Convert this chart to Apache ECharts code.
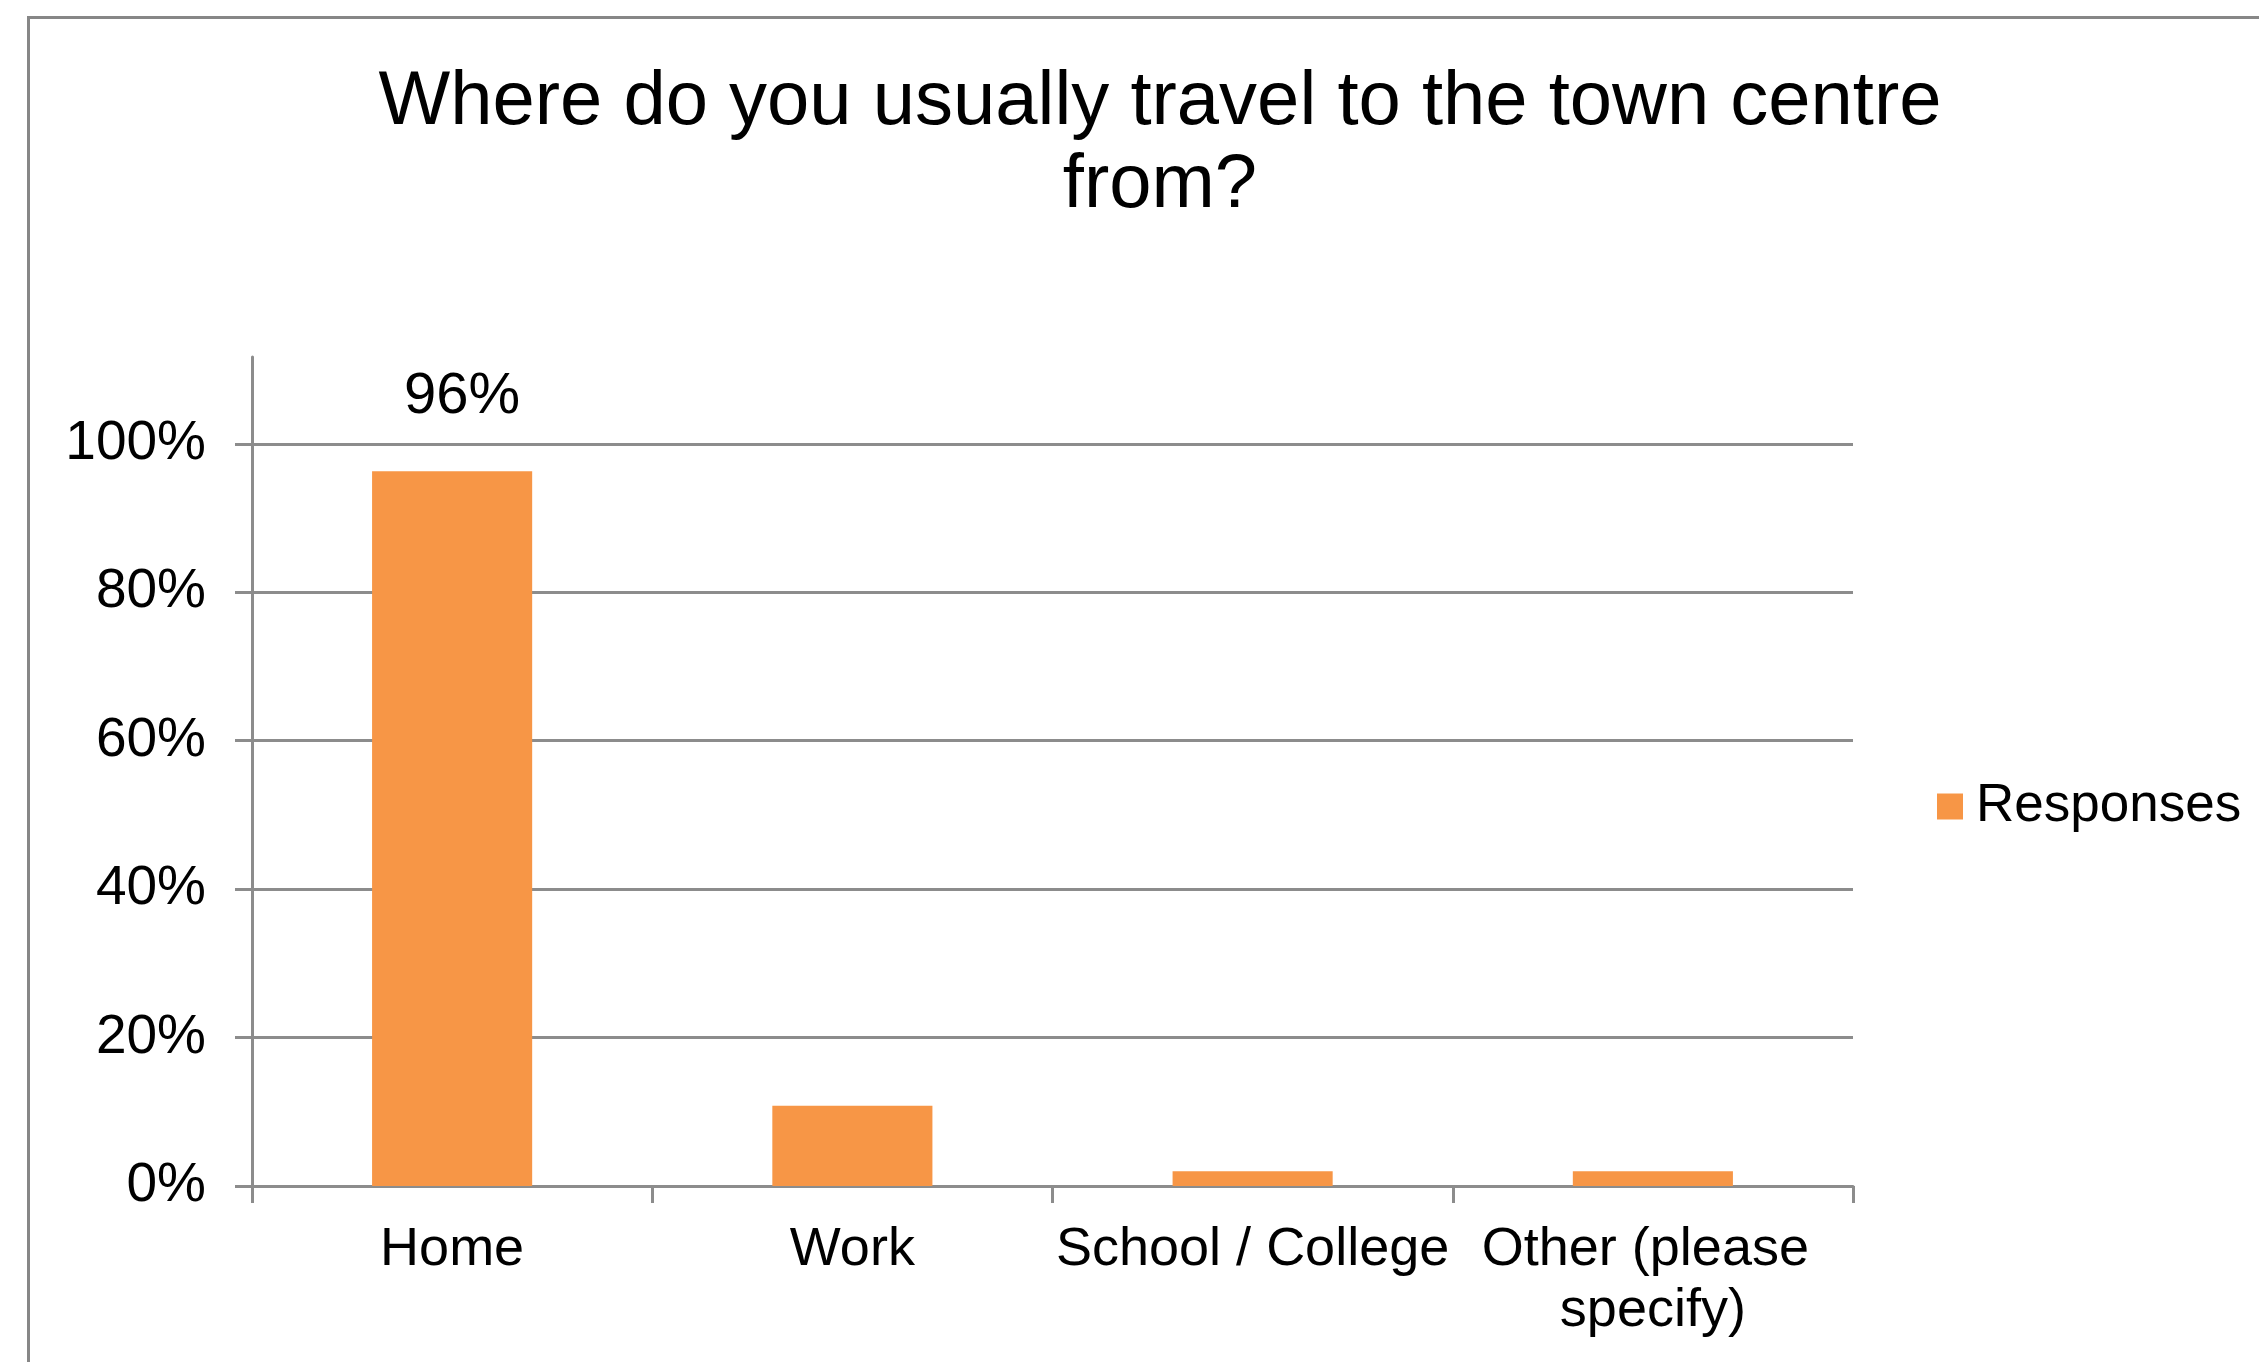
<!DOCTYPE html>
<html>
<head>
<meta charset="utf-8">
<script src="https://cdn.jsdelivr.net/npm/echarts@6/dist/echarts.min.js"></script>
<style>
  html, body { margin: 0; padding: 0; background: #ffffff; overflow: hidden; }
  #frame { position: absolute; left: 27px; top: 16px; width: 2400px; height: 1500px; border: 3px solid #878787; box-sizing: border-box; }
  #chart { position: absolute; left: 0; top: 0; width: 2259px; height: 1362px; }
</style>
</head>
<body>
<div id="frame"></div>
<div id="chart"></div>
<script>
const titleText = 'Where do you usually travel to the town centre\nfrom?';
const categories = ['Home', 'Work', 'School / College', 'Other (please specify)'];
const seriesName = 'Responses';
const responses = [0.963, 0.108, 0.02, 0.02];
const showValueLabel = [true, false, false, false];
const yTicks = [0, 0.2, 0.4, 0.6, 0.8, 1.0];
const yMax = 1.117;

const FONT = '"Liberation Sans", Arial, sans-serif';
const GRID_COLOR = '#8c8c8c';
const BAR_COLOR = '#F79646';

const chart = echarts.init(document.getElementById('chart'), null, { renderer: 'canvas' });

const pct = v => Math.round(v * 100) + '%';

chart.setOption({
  animation: false,
  title: {
    text: titleText,
    left: 1155,
    top: 57,
    textAlign: 'center',
    textStyle: { fontFamily: FONT, fontSize: 76, fontWeight: 'normal', color: '#000', lineHeight: 83 }
  },
  legend: {
    data: [seriesName],
    left: 1937,
    top: 780,
    padding: 0,
    icon: 'rect',
    itemWidth: 26,
    itemHeight: 26,
    textStyle: { fontFamily: FONT, fontSize: 53, color: '#000', padding: [0, 0, 0, 8] }
  },
  grid: { left: 252, right: 406, top: 357, bottom: 176, containLabel: false },
  xAxis: {
    type: 'category',
    data: categories,
    axisLine: { show: true, lineStyle: { color: GRID_COLOR, width: 3 } },
    axisTick: { show: true, length: 17, lineStyle: { color: GRID_COLOR, width: 3 } },
    axisLabel: {
      interval: 0,
      margin: 34,
      fontFamily: FONT, fontSize: 54, color: '#000', lineHeight: 61,
      width: 400, overflow: 'break', align: 'center'
    },
    splitLine: { show: false }
  },
  yAxis: {
    type: 'value',
    min: 0,
    max: yMax,
    interval: 0.2,
    axisLine: { show: true, lineStyle: { color: GRID_COLOR, width: 3 } },
    axisTick: { show: true, length: 17, customValues: yTicks, lineStyle: { color: GRID_COLOR, width: 3 } },
    axisLabel: {
      customValues: yTicks,
      formatter: pct,
      margin: 46,
      fontFamily: FONT, fontSize: 55, color: '#000'
    },
    splitLine: { show: true, lineStyle: { color: GRID_COLOR, width: 3 } }
  },
  series: [{
    name: seriesName,
    type: 'bar',
    barWidth: '40%',
    itemStyle: { color: BAR_COLOR },
    label: {
      show: true,
      position: 'top',
      distance: 45,
      offset: [10, 0],
      fontFamily: FONT, fontSize: 58, color: '#000',
      formatter: p => showValueLabel[p.dataIndex] ? pct(p.value) : ''
    },
    data: responses
  }]
});
</script>
</body>
</html>
